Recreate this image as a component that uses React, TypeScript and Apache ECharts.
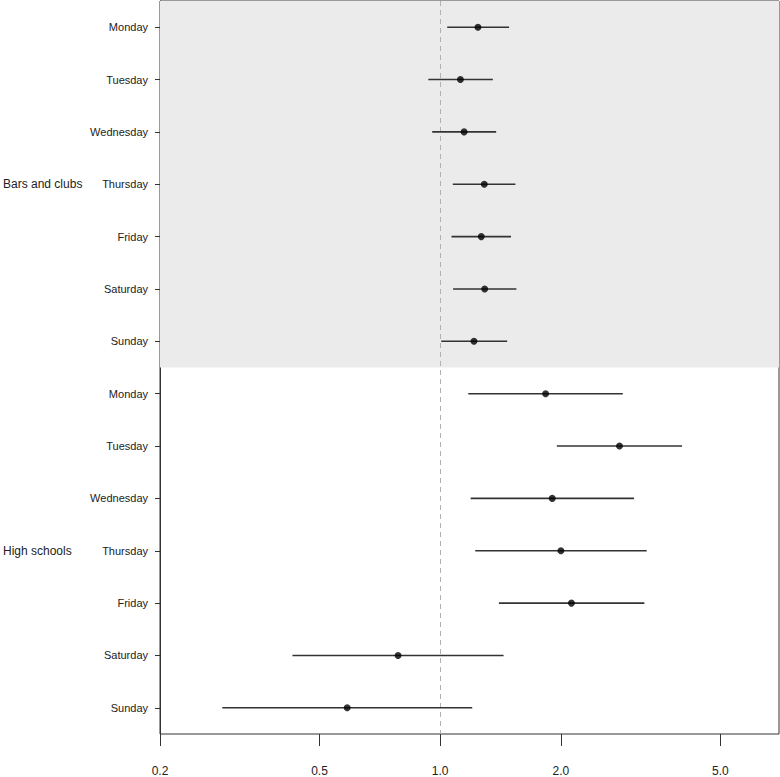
import React, { useEffect, useRef } from "react";
import * as echarts from "echarts";

const groups = ["Bars and clubs", "High schools"];
const days = ["Monday", "Tuesday", "Wednesday", "Thursday", "Friday", "Saturday", "Sunday"];

const barsEstimate = [1.242, 1.123, 1.147, 1.288, 1.266, 1.291, 1.214];
const barsLower = [1.041, 0.934, 0.955, 1.075, 1.067, 1.077, 1.006];
const barsUpper = [1.485, 1.353, 1.379, 1.54, 1.502, 1.549, 1.469];

const schoolsEstimate = [1.832, 2.8, 1.903, 2.0, 2.125, 0.785, 0.586];
const schoolsLower = [1.175, 1.954, 1.191, 1.223, 1.401, 0.428, 0.286];
const schoolsUpper = [2.854, 4.012, 3.045, 3.274, 3.23, 1.439, 1.202];

const tickValues = [0.2, 0.5, 1.0, 2.0, 5.0];
const xMin = 0.2;
const xMax = 7;
const refValue = 1;

export default function App() {
  const ref = useRef<HTMLDivElement>(null);

  useEffect(() => {
    if (!ref.current) return;
    const chart = echarts.init(ref.current, null, { renderer: "svg" });

    const categories: string[] = [];
    groups.forEach((g) => days.forEach((d) => categories.push(g + "|" + d)));

    const est = [...barsEstimate, ...schoolsEstimate];
    const lo = [...barsLower, ...schoolsLower];
    const hi = [...barsUpper, ...schoolsUpper];

    const intervals = categories.map((c, i) => [Math.log10(lo[i]), Math.log10(hi[i]), i]);
    const points = categories.map((c, i) => [Math.log10(est[i]), i]);

    const font = "Liberation Sans, Arial, Helvetica, sans-serif";

    chart.setOption({
      animation: false,
      grid: {
        left: 157,
        right: 1,
        top: 1,
        bottom: 42,
        show: true,
        borderColor: "#333",
        borderWidth: 1,
        backgroundColor: "transparent",
      },
      xAxis: {
        type: "value",
        min: Math.log10(xMin),
        max: Math.log10(xMax),
        axisLine: { show: false, onZero: false },
        splitLine: { show: false },
        axisTick: {
          show: true,
          length: 12,
          customValues: tickValues.map((v) => Math.log10(v)),
          lineStyle: { color: "#333", width: 1 },
        },
        axisLabel: {
          customValues: tickValues.map((v) => Math.log10(v)),
          formatter: (v: number) => Math.pow(10, v).toFixed(1),
          margin: 31,
          fontSize: 12,
          color: "#222",
          fontFamily: font,
        },
      },
      yAxis: [
        {
          type: "category",
          data: categories,
          inverse: true,
          position: "left",
          axisLine: { show: true, onZero: false, lineStyle: { color: "#333", width: 1 } },
          axisTick: { show: true, length: 5, alignWithLabel: true, lineStyle: { color: "#333" } },
          axisLabel: {
            interval: 0,
            formatter: (v: string) => v.split("|")[1],
            margin: 12,
            fontSize: 11,
            color: "#222",
            fontFamily: font,
          },
          splitArea: { show: false },
          splitLine: { show: false },
        },
        {
          type: "category",
          data: categories,
          inverse: true,
          position: "left",
          axisLine: { show: false, onZero: false },
          axisTick: { show: false },
          splitLine: { show: false },
          splitArea: { show: false },
          axisLabel: {
            interval: 0,
            formatter: (v: string, idx: number) => (idx % days.length === 3 ? v.split("|")[0] : ""),
            align: "left",
            margin: 157,
            fontSize: 12,
            color: "#222",
            fontFamily: font,
          },
        },
        {
          type: "value",
          min: 0,
          max: categories.length,
          inverse: true,
          show: false,
          axisLine: { onZero: false },
        },
      ],
      series: [
        {
          type: "line",
          xAxisIndex: 0,
          yAxisIndex: 2,
          data: [],
          silent: true,
          markArea: {
            silent: true,
            itemStyle: { color: "#ebebeb" },
            data: [[{ yAxis: 0 }, { yAxis: days.length }]],
          },
          z: 1,
        },
        {
          type: "custom",
          xAxisIndex: 0,
          yAxisIndex: 0,
          data: intervals,
          encode: { x: [0, 1], y: 2 },
          renderItem: (params: any, api: any) => {
            const p1 = api.coord([api.value(0), api.value(2)]);
            const p2 = api.coord([api.value(1), api.value(2)]);
            return {
              type: "line",
              shape: { x1: p1[0], y1: p1[1], x2: p2[0], y2: p2[1] },
              style: { stroke: "#333", lineWidth: 1.6 },
            };
          },
          z: 3,
        },
        {
          type: "scatter",
          xAxisIndex: 0,
          yAxisIndex: 0,
          data: points,
          symbol: "circle",
          symbolSize: 7,
          itemStyle: { color: "#000" },
          z: 4,
          markLine: {
            silent: true,
            symbol: ["none", "none"],
            label: { show: false },
            lineStyle: { color: "#b0b0b0", type: [5, 4], width: 1 },
            data: [{ xAxis: Math.log10(refValue) }],
            z: 2,
          },
        },
      ],
    });

    return () => chart.dispose();
  }, []);

  return (
    <div
      ref={ref}
      style={{ position: "absolute", left: 0, top: 0, width: 780, height: 777 }}
    />
  );
}
